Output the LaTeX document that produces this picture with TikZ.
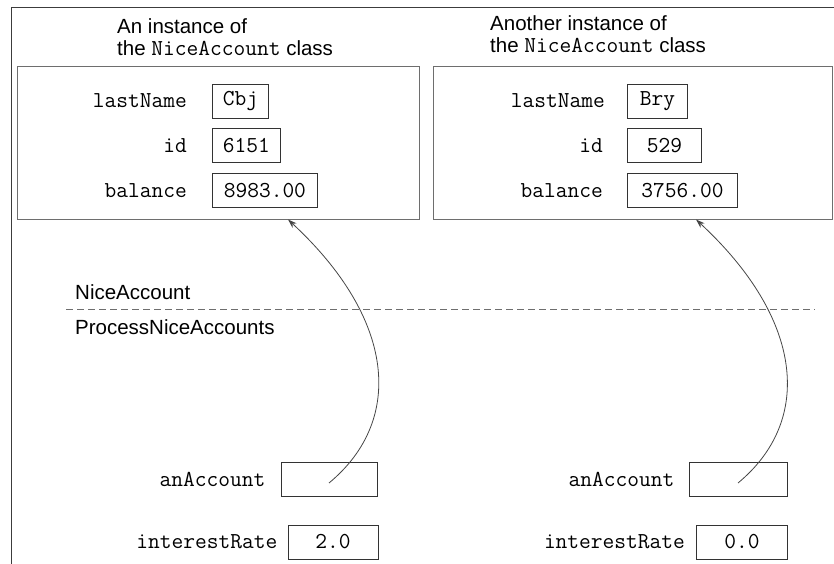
\documentclass[tikz,border=0pt]{standalone}
\usepackage{fontspec}
\setmainfont{Liberation Sans}
\usepackage{tikz}
\usetikzlibrary{positioning,arrows.meta}
\definecolor{framegray}{RGB}{60,60,60}
\definecolor{boxgray}{RGB}{110,110,110}
\definecolor{linegray}{RGB}{70,70,70}

\begin{document}
\begin{tikzpicture}[
  x=1pt, y=-1pt,
  node distance=25pt,
  object/.style={rectangle, draw=boxgray, line width=1pt, minimum width=#1, minimum height=152pt, inner sep=0pt},
  title/.style={align=left, anchor=north west, inner sep=0pt, font=\fontsize{20.5}{22}\selectfont},
  field/.style={anchor=east, inner sep=0pt, font=\fontsize{22.8}{24}\ttfamily},
  value/.style={rectangle, draw=black!80, line width=0.8pt, minimum width=#1, minimum height=34pt, inner sep=0pt, font=\fontsize{22.8}{24}\ttfamily},
  scope/.style={anchor=west, inner sep=0pt, font=\fontsize{20.5}{24}\selectfont},
  ptr/.style={draw=linegray, line width=0.8pt, -{Stealth[length=9pt,width=6pt]}}
]
  \useasboundingbox (0,0) rectangle (834,564);

  % Frame
  \draw[framegray, line width=1pt] (834,8) -- (11,8) -- (11,564);

  % Objects
  \node[title] (title1) at (117,18) {An instance of\\the {\fontsize{22.8}{22}\ttfamily NiceAccount} class};
  \node[title] (title2) at (490,15) {Another instance of\\the {\fontsize{22.8}{22}\ttfamily NiceAccount} class};

  \node[object=402pt] (obj1) at (218,143) {};
  \node[object=399pt] (obj2) at (632.5,143) {};

  \node[value=56pt, anchor=west] (name1) at (212,101) {Cbj};
  \node[value=68pt, below=10pt of name1.south west, anchor=north west] (id1) {6151};
  \node[value=105pt, below=10pt of id1.south west, anchor=north west] (bal1) {8983.00};
  \node[field, left=of name1] (lname1) {lastName};
  \node[field, left=of id1] (lid1) {id};
  \node[field, left=of bal1] (lbal1) {balance};

  \node[value=60pt, anchor=west] (name2) at (627,101) {Bry};
  \node[value=74pt, below=10pt of name2.south west, anchor=north west] (id2) {529};
  \node[value=110pt, below=10pt of id2.south west, anchor=north west] (bal2) {3756.00};
  \node[field, left=22pt of name2] (lname2) {lastName};
  \node[field, left=24pt of id2] (lid2) {id};
  \node[field, left=24pt of bal2] (lbal2) {balance};

  % Scopes
  \node[scope] (nice) at (75,292) {NiceAccount};
  \node[scope] (proc) at (75,327) {ProcessNiceAccounts};
  \draw[boxgray, line width=1pt, dash pattern=on 7pt off 4pt] (66,309) -- (815,309);

  % Variables
  \node[value=96pt] (acc1) at (329,479) {};
  \node[value=90pt] (rate1) at (333,542) {2.0};
  \node[field, left=15pt of acc1] (lacc1) {anAccount};
  \node[field, left=10pt of rate1] (lrate1) {interestRate};

  \node[value=98pt] (acc2) at (738,479) {};
  \node[value=91pt] (rate2) at (742,542) {0.0};
  \node[field, left=14pt of acc2] (lacc2) {anAccount};
  \node[field, left=11pt of rate2] (lrate2) {interestRate};

  % Arrows
  \coordinate (tip1) at ([xshift=-41pt]acc1.center |- obj1.south);
  \coordinate (tip2) at ([xshift=-42pt]acc2.center |- obj2.south);
  \draw[ptr] ([yshift=-4pt]acc1.center) .. controls +(76,-63) and +(107,99) .. (tip1);
  \draw[ptr] ([yshift=-4pt]acc2.center) .. controls +(76,-63) and +(107,99) .. (tip2);

\end{tikzpicture}
\end{document}
